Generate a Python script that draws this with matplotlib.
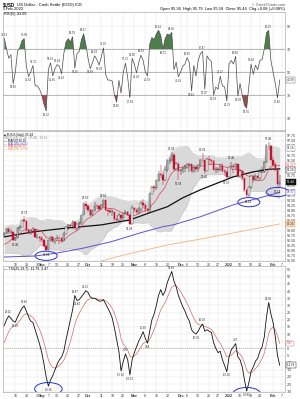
import numpy as np
import pandas as pd
import matplotlib
matplotlib.use('Agg')
import matplotlib.pyplot as plt
from matplotlib.patches import Ellipse

plt.rcParams['font.family'] = ['Liberation Sans', 'DejaVu Sans']

# ---------------- datos ----------------
feriados = ['2021-09-06', '2021-11-25', '2021-12-24', '2022-01-17']
dias = pd.bdate_range('2021-07-12', '2022-02-11')
dias = dias[~dias.isin(pd.to_datetime(feriados))]

# cierres antes de la ventana visible (para BB y MA10)
cierres_previos = [92.23, 92.73, 92.43, 92.61, 92.70, 92.87, 92.93, 92.80, 92.83, 92.89,
                   92.65, 92.48, 92.30, 91.90, 92.17, 92.05, 92.03, 92.29, 92.26, 92.78]

# 9-Ago-2021 .. 4-Feb-2022
maximos = [92.94, 93.14, 93.19, 93.06, 92.98, 92.70, 93.17, 93.27, 93.56, 93.73, 93.50, 93.06, 93.05, 93.19, 93.09, 92.83, 92.75,
           92.73, 92.56, 92.29, 92.54, 92.74, 92.72, 92.63, 92.80, 92.73, 92.66, 92.94, 93.25, 93.36, 93.32, 93.53, 93.50, 93.36, 93.47, 93.81, 94.44, 94.50,
           94.31, 94.10, 94.07, 94.45, 94.32, 94.27, 94.32, 94.56, 94.55, 94.05, 94.12, 94.09, 93.91, 93.80, 93.89, 93.79, 93.91, 94.06, 93.97, 93.84, 94.29,
           94.20, 94.13, 94.18, 94.50, 94.59, 94.34, 94.12, 94.95, 95.26, 95.27, 95.55, 95.98, 96.27, 95.88, 96.25, 96.58, 96.70, 96.94, 96.89, 96.43, 96.46,
           96.10, 96.20, 96.31, 96.41, 96.38, 96.35, 96.30, 96.31, 96.34, 96.61, 96.91, 96.45, 96.67, 96.74, 96.62, 96.53, 96.18, 96.21, 96.34, 96.38, 96.11, 96.03,
           96.25, 96.46, 96.35, 96.39, 96.35, 96.11, 96.03, 95.64, 95.09, 95.23, 95.79, 95.79, 95.84, 95.80, 96.10, 96.20, 96.51, 97.33, 97.46, 97.32,
           96.68, 96.44, 96.07, 95.79]
minimos = [92.74, 92.84, 92.85, 92.82, 92.47, 92.46, 92.63, 92.97, 93.16, 93.42, 92.95, 92.84, 92.80, 92.87, 92.62, 92.58, 92.45,
           92.41, 92.18, 91.94, 92.10, 92.44, 92.38, 92.35, 92.56, 92.33, 92.37, 92.48, 92.83, 93.03, 93.13, 93.10, 93.05, 93.00, 93.15, 93.29, 93.79, 94.09,
           93.94, 93.75, 93.76, 93.98, 94.08, 94.00, 94.06, 94.21, 94.01, 93.75, 93.87, 93.75, 93.49, 93.51, 93.47, 93.49, 93.55, 93.84, 93.72, 93.28, 93.31,
           93.88, 93.86, 93.82, 93.94, 94.14, 93.96, 93.87, 93.89, 94.87, 94.94, 95.04, 95.46, 95.66, 95.30, 95.50, 95.95, 96.35, 96.44, 95.98, 96.00, 95.54,
           95.80, 95.88, 95.94, 96.07, 95.96, 95.90, 95.88, 95.96, 95.96, 96.24, 96.41, 95.85, 96.00, 96.33, 96.30, 96.02, 95.89, 95.90, 95.99, 95.92, 95.75, 95.57,
           95.59, 96.13, 95.90, 96.02, 95.68, 95.70, 95.55, 94.96, 94.66, 94.63, 95.10, 95.38, 95.48, 95.47, 95.56, 95.87, 95.90, 96.40, 97.07, 96.53,
           96.20, 95.99, 95.14, 95.18]
cierres = [92.90, 93.06, 92.91, 92.95, 92.53, 92.65, 93.14, 93.18, 93.55, 93.48, 93.01, 92.88, 92.97, 93.06, 92.67, 92.68, 92.63,
           92.51, 92.22, 92.04, 92.52, 92.67, 92.49, 92.58, 92.62, 92.61, 92.50, 92.85, 93.20, 93.27, 93.21, 93.44, 93.11, 93.33, 93.37, 93.77, 94.36, 94.23,
           94.04, 93.81, 93.98, 94.26, 94.22, 94.08, 94.31, 94.52, 94.04, 93.97, 93.96, 93.96, 93.57, 93.55, 93.77, 93.62, 93.87, 93.94, 93.78, 93.34, 94.12,
           94.06, 93.93, 94.10, 94.38, 94.28, 94.09, 94.04, 94.86, 95.17, 95.13, 95.52, 95.86, 95.81, 95.55, 96.03, 96.50, 96.52, 96.82, 96.09, 96.35, 95.99,
           96.04, 96.14, 96.20, 96.27, 96.34, 95.97, 96.20, 96.09, 96.31, 96.55, 96.54, 96.01, 96.62, 96.55, 96.50, 96.06, 96.08, 96.04, 96.23, 95.97, 95.96, 95.67,
           96.21, 96.26, 96.18, 96.32, 95.73, 95.98, 95.63, 95.02, 94.78, 95.17, 95.73, 95.53, 95.76, 95.64, 95.92, 95.95, 96.46, 97.25, 97.27, 96.54,
           96.31, 96.05, 95.36, 95.44]

rsi = [79.13, 70, 62, 65, 39.85, 50, 68, 71, 77, 79.08,
       55, 46, 50, 55.72, 38, 38, 35, 30, 22, 16.22,
       52, 58, 46.65, 53, 56.44, 55, 48.40, 66, 76, 79,
       76, 80.59, 53.26, 66, 68, 78, 83.27, 74, 62, 52.89,
       58, 64.03, 61, 56.03, 63, 71.00, 48, 43, 43, 42,
       30, 23.68, 42.76, 31.67, 50, 57.72, 45, 27.54, 61.85, 57,
       49.20, 58, 64.63, 60, 50, 46.53, 74, 80, 78, 83,
       86.34, 82, 69.75, 79, 83, 82, 84.46, 52.02, 58.53, 45.85,
       50, 55, 57, 62.56, 58, 33.64, 55.83, 46.45, 60, 66,
       67.87, 35.07, 64, 61, 59, 30.03, 37, 35, 46.37, 38,
       37, 24.79, 57, 60, 57, 63.68, 29.09, 40, 30, 21,
       18.55, 38, 56.92, 48, 56, 52, 60, 61, 70, 84,
       86.25, 60, 50, 40, 27.40, 43.09]

tsi = [16, 20, 22.62, 21, 19, 18.28, 22, 25, 28, 29.64,
       26, 22, 19, 18, 13, 8, 3, -3, -11, -20,
       -26.36, -22, -19, -15, -11, -8, -6, -2, 6, 13,
       20, 27, 36.87, 33.40, 34, 36, 38, 40.25, 39, 36,
       35, 35, 34, 33, 33, 34, 31, 28, 25, 21,
       14, 6, -2, -15.82, -9, -3.90, -8, -18.53, -8, -3,
       1, 5, 8, 11.60, 7, 3.64, 12, 20, 24, 30,
       37, 41, 37, 40, 46, 50, 53.68, 47, 43, 37,
       33, 29, 26, 22, 19, 13, 11, 10.05, 12, 15,
       16.90, 12, 13, 12, 11, 4, 0, -3, -2, -8,
       -12, -16.28, -6, -1, 1, 3.27, -6, -8, -13, -22,
       -29.82, -24, -16, -13, -9, -7, -2, 1, 8, 22,
       32.08, 24, 18, 8, -5, -11.79]
tsi_senal_inicio = 0.0
tsi_picos = [2, 9, 32, 37, 55, 63, 76, 90, 105, 120]
tsi_valles = [5, 20, 33, 53, 57, 65, 87, 101, 110]

ma50_idx = [0, 13, 29, 44, 57, 66, 74, 81, 89, 97, 104, 113, 120, 125]
ma50 = [92.69, 92.94, 93.14, 93.29, 93.54, 93.90, 94.20, 94.65, 95.05, 95.40, 95.70, 95.95, 96.08, 96.10]
ma100_idx = [0, 14, 24, 36, 48, 62, 72, 77, 89, 104, 116, 125]
ma100 = [91.68, 91.73, 91.88, 92.13, 92.43, 92.90, 93.20, 93.30, 93.70, 94.30, 94.65, 94.92]
ma200_idx = [30, 37, 55, 74, 90, 104, 115, 125]
ma200 = [91.15, 91.28, 91.80, 92.28, 92.60, 92.89, 93.12, 93.34]

circ_precio = [19, 111, 124]
circ_tsi = [20, 110]

tick_fechas = ['2021-08-16', '2021-08-23', '2021-08-30', '2021-09-01', '2021-09-07', '2021-09-13',
               '2021-09-20', '2021-09-27', '2021-10-01', '2021-10-11', '2021-10-18', '2021-10-25',
               '2021-11-01', '2021-11-08', '2021-11-15', '2021-11-22', '2021-12-01', '2021-12-06',
               '2021-12-13', '2021-12-20', '2021-12-27', '2022-01-03', '2022-01-10', '2022-01-18',
               '2022-01-24', '2022-02-01', '2022-02-07']
tick_textos = ['16', '23', '30', 'Sep', '7', '13', '20', '27', 'Oct', '11', '18', '25', 'Nov', '8',
               '15', '22', 'Dec', '6', '13', '20', '27', '2022', '10', '18', '24', 'Feb', '7']
meses = ['Sep', 'Oct', 'Nov', 'Dec', '2022', 'Feb']

# ---------------- calculos ----------------
n_pre = len(cierres_previos)
todos = pd.Series(cierres_previos + cierres)
x = np.arange(len(cierres))
aperturas = todos.values[n_pre - 1:-1]
cierres = np.array(cierres)
maximos = np.array(maximos)
minimos = np.array(minimos)
rsi = np.array(rsi)
tsi = np.array(tsi)

media20 = todos.rolling(20).mean().values[n_pre:]
desv20 = todos.rolling(20).std(ddof=0).values[n_pre:]
bb_sup = media20 + 2 * desv20
bb_inf = media20 - 2 * desv20
ma10 = todos.rolling(10).mean().values[n_pre:]
senal = pd.Series([tsi_senal_inicio] + list(tsi)).ewm(span=7, adjust=False).mean().values[1:]

tick_x = [dias.get_loc(pd.Timestamp(f)) - n_pre for f in tick_fechas]


def extremos(v, w):
    picos, valles = [], []
    for i in range(len(v) - 1):
        a, b = max(0, i - w), min(len(v), i + w + 1)
        if i == a + np.argmax(v[a:b]):
            picos.append(i)
        elif i == a + np.argmin(v[a:b]):
            valles.append(i)
    return picos, valles


def cajas(ax, items, sep):
    # items: (valor, texto, borde, fondo, color texto); se separan para no pisarse
    items = sorted(items, key=lambda t: -t[0])
    ult = None
    for val, txt, borde, fondo, tcol in items:
        y = val if ult is None else min(val, ult - sep)
        ult = y
        ax.annotate(txt, xy=(1.0, y), xycoords=('axes fraction', 'data'), xytext=(1.5, 0),
                    textcoords='offset points', fontsize=2.2, va='center', ha='left', color=tcol,
                    bbox=dict(boxstyle='square,pad=0.25', fc=fondo, ec=borde, lw=0.3),
                    annotation_clip=False, zorder=10)


def estilo(ax, ylim, yticks, fmt):
    ax.set_xlim(-0.6, 127.4)
    ax.set_ylim(*ylim)
    ax.set_xticks(tick_x)
    ax.set_yticks(yticks)
    ax.set_yticklabels([fmt.format(t) for t in yticks])
    ax.yaxis.tick_right()
    ax.tick_params(axis='both', length=0, labelsize=2.6, pad=1.2, colors='#333333')
    for t in yticks:
        ax.axhline(t, color='#e3e3e3', lw=0.35, zorder=0)
    for t in tick_x:
        ax.axvline(t, color='#e3e3e3', lw=0.35, zorder=0)
    for s in ax.spines.values():
        s.set_color('#999999')
        s.set_linewidth(0.4)


def fechas(ax, visibles=True):
    if visibles:
        ax.set_xticklabels(tick_textos)
        for lab in ax.get_xticklabels():
            if lab.get_text() in meses:
                lab.set_fontweight('bold')
    else:
        ax.set_xticklabels([])


fig = plt.figure(figsize=(3.0, 3.99), dpi=100)
ax_r = fig.add_axes([0.01, 0.6754, 0.94, 0.2957])
ax_p = fig.add_axes([0.01, 0.3459, 0.94, 0.3258])
ax_t = fig.add_axes([0.01, 0.0175, 0.94, 0.3158])

# ---------------- cabecera ----------------
fig.text(0.01, 0.993, r'\$USD', fontsize=3.3, fontweight='bold', va='top')
fig.text(0.058, 0.993, 'US Dollar - Cash Settle (EOD) ICE', fontsize=3.1, va='top')
fig.text(0.01, 0.983, '5-Feb-2022', fontsize=3.0, va='top')
fig.text(0.95, 0.993, '© StockCharts.com', fontsize=2.8, va='top', ha='right', color='#555555')
cambio = cierres[-1] - cierres[-2]
fig.text(0.95, 0.983,
         'Open {:.2f}  High {:.2f}  Low {:.2f}  Close {:.2f}  Chg {:+.2f} ({:+.2f}%)'.format(
             aperturas[-1], maximos[-1], minimos[-1], cierres[-1], cambio, 100 * cambio / cierres[-2]),
         fontsize=2.9, va='top', ha='right')

# ---------------- RSI ----------------
estilo(ax_r, (0, 102.6), [10, 30, 50, 70, 90], '{:d}')
fechas(ax_r, False)
for nivel in [30, 50, 70]:
    ax_r.axhline(nivel, color='#a0a0a0', lw=0.5, zorder=1)
ax_r.fill_between(x, rsi, 70, where=rsi >= 70, interpolate=True, color='#4e7d4e', lw=0, zorder=2)
ax_r.fill_between(x, rsi, 30, where=rsi <= 30, interpolate=True, color='#9a4d4d', lw=0, zorder=2)
ax_r.plot(x, rsi, color='#4a4a4a', lw=0.5, zorder=3)
p, v = extremos(rsi, 2)
for i in p:
    ax_r.text(x[i], rsi[i] + 1.5, '{:.2f}'.format(rsi[i]), fontsize=2.0, ha='center', va='bottom', color='#333333')
for i in v:
    ax_r.text(x[i], rsi[i] - 1.5, '{:.2f}'.format(rsi[i]), fontsize=2.0, ha='center', va='top', color='#333333')
ax_r.text(0.005, 0.997, 'RSI(5) {:.2f}'.format(rsi[-1]), transform=ax_r.transAxes,
          fontsize=2.8, va='top', ha='left')
cajas(ax_r, [(rsi[-1], '{:.2f}'.format(rsi[-1]), '#555555', 'white', '#333333')], 5)

# ---------------- precio ----------------
yt = np.arange(91.5, 97.76, 0.25)
estilo(ax_p, (91.48, 98.0), yt, '{:.2f}')
fechas(ax_p)
ax_p.fill_between(x, bb_inf, bb_sup, color='#d9d9d9', lw=0, zorder=1)
ax_p.plot(x, bb_sup, color='#bdbdbd', lw=0.3, zorder=1)
ax_p.plot(x, bb_inf, color='#bdbdbd', lw=0.3, zorder=1)
ax_p.plot(ma200_idx, ma200, color='#f2b27a', lw=0.6, zorder=2)
ax_p.plot(ma100_idx, ma100, color='#6a4fc8', lw=0.7, zorder=2)
ax_p.plot(ma50_idx, ma50, color='#111111', lw=0.9, zorder=3)
ax_p.plot(x, ma10, color='#d9445a', lw=0.5, zorder=3)

for i in x:
    o, c = aperturas[i], cierres[i]
    sube = c >= o
    col = '#222222' if sube else '#c8102e'
    ax_p.vlines(i, min(minimos[i], o, c), max(maximos[i], o, c), color=col, lw=0.35, zorder=4)
    ax_p.bar(i, max(abs(c - o), 0.015), bottom=min(o, c), width=0.62,
             color='white' if sube else col, edgecolor=col, lw=0.3, zorder=5)

p, _ = extremos(maximos, 5)
_, v = extremos(minimos, 5)
for i in p:
    ax_p.text(x[i], maximos[i] + 0.06, '{:.2f}'.format(maximos[i]), fontsize=2.1, ha='center', va='bottom', color='#222222')
for i in v:
    ax_p.text(x[i], minimos[i] - 0.08, '{:.2f}'.format(minimos[i]), fontsize=2.1, ha='center', va='top', color='#222222')
for i in circ_precio:
    ax_p.add_patch(Ellipse((x[i], minimos[i] - 0.2), 10, 0.46, fill=False, ec='#2a35c9', lw=0.7,
                           zorder=6, clip_on=False))

leyenda = [
    (r'■ \$USD (Daily) {:.2f}'.format(cierres[-1]), '#111111'),
    ('BB(20,2.0) {:.2f} - {:.2f} - {:.2f}'.format(bb_sup[-1], media20[-1], bb_inf[-1]), '#888888'),
    ('— MA(50) {:.2f}'.format(ma50[-1]), '#111111'),
    ('— MA(100) {:.2f}'.format(ma100[-1]), '#6a4fc8'),
    ('— MA(10) {:.2f}'.format(ma10[-1]), '#d9445a'),
    ('— MA(200) {:.2f}'.format(ma200[-1]), '#e8954a'),
]
for k, (txt, col) in enumerate(leyenda):
    ax_p.text(0.005, 0.985 - k * 0.022, txt, transform=ax_p.transAxes, fontsize=2.2,
              va='top', ha='left', color=col)

cajas(ax_p, [
    (bb_sup[-1], '{:.2f}'.format(bb_sup[-1]), '#999999', 'white', '#333333'),
    (ma50[-1], '{:.2f}'.format(ma50[-1]), '#111111', 'white', '#111111'),
    (ma10[-1], '{:.2f}'.format(ma10[-1]), '#d9445a', 'white', '#d9445a'),
    (cierres[-1], '{:.2f}'.format(cierres[-1]), '#111111', '#111111', 'white'),
    (ma100[-1], '{:.2f}'.format(ma100[-1]), '#6a4fc8', 'white', '#6a4fc8'),
    (ma200[-1], '{:.2f}'.format(ma200[-1]), '#e8954a', '#f6d3b3', '#333333'),
], 0.2)

# ---------------- TSI ----------------
estilo(ax_t, (-30.5, 57.5), list(range(-30, 56, 5)), '{:d}')
fechas(ax_t)
ax_t.axhline(0, color='#999999', lw=0.5, ls=(0, (1.5, 1.5)), zorder=1)
ax_t.plot(x, senal, color='#d06a6a', lw=0.5, zorder=2)
ax_t.plot(x, tsi, color='#111111', lw=0.6, zorder=3)
for i in tsi_picos:
    ax_t.text(x[i], tsi[i] + 1.2, '{:.2f}'.format(tsi[i]), fontsize=2.0, ha='center', va='bottom', color='#333333')
for i in tsi_valles:
    ax_t.text(x[i], tsi[i] - 1.2, '{:.2f}'.format(tsi[i]), fontsize=2.0, ha='center', va='top', color='#333333')
for i in circ_tsi:
    ax_t.add_patch(Ellipse((x[i], tsi[i] - 2.0), 12.5, 9, fill=False, ec='#2a35c9', lw=0.7, zorder=6))
ax_t.text(0.005, 0.99, '— TSI(25,13,7) {:.2f}, {:.2f}'.format(tsi[-1], senal[-1]), transform=ax_t.transAxes,
          fontsize=2.5, va='top', ha='left')
cajas(ax_t, [
    (senal[-1], '{:.2f}'.format(senal[-1]), '#d06a6a', 'white', '#c04040'),
    (tsi[-1], '{:.2f}'.format(tsi[-1]), '#111111', 'white', '#111111'),
], 4)

fig.savefig('out.png', dpi=100)
